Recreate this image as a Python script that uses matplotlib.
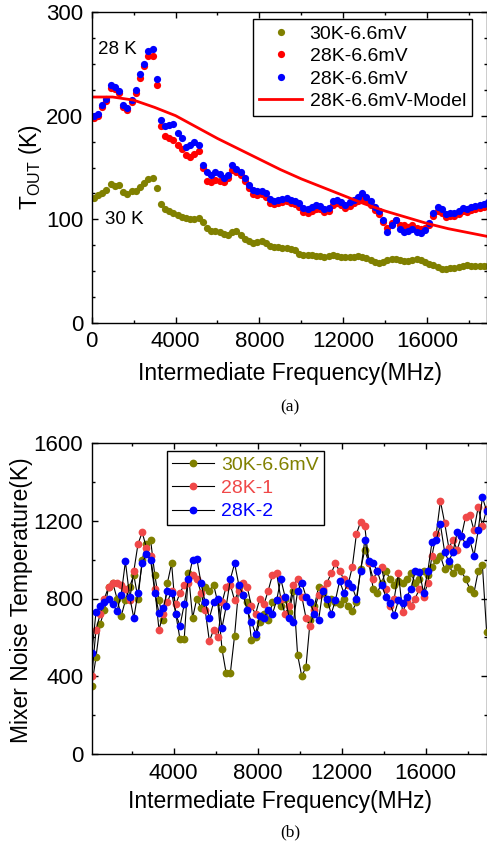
import matplotlib
matplotlib.use('Agg')
import matplotlib.pyplot as plt
from matplotlib.ticker import MultipleLocator

plt.rcParams['font.family'] = ['Liberation Sans', 'DejaVu Sans']
plt.rcParams['mathtext.default'] = 'regular'

# ---------------- data ----------------
freq = list(range(100, 19000, 200))  # MHz sampling grid

# (a) output noise temperature
tout_30k = [121, 123, 125, 128, 134, 132, 133, 126, 124, 127, 127, 131, 135, 139, 140, 130,
            115, 110, 108, 106, 104, 102, 101, 100, 100, 101, 97, 92, 89, 89, 88, 86,
            85, 88, 89, 85, 81, 79, 77, 78, 79, 77, 74, 73, 73, 72, 72, 71,
            70, 67, 66, 66, 66, 65, 65, 64, 65, 66, 65, 64, 64, 64, 64, 65,
            64, 63, 61, 59, 58, 59, 61, 62, 62, 61, 60, 60, 61, 62, 61, 59,
            57, 56, 54, 52, 52, 53, 53, 54, 55, 56, 55, 55, 55, 55, 55]
tout_28k_red = [198, 200, 208, 214, 227, 226, 222, 208, 205, 213, 222, 236, 248, 258, 258, 230,
                190, 180, 178, 177, 172, 168, 162, 160, 163, 166, 150, 137, 136, 138, 137, 136,
                140, 148, 146, 143, 137, 130, 124, 123, 124, 122, 116, 115, 116, 117, 118, 116,
                115, 112, 107, 106, 108, 110, 110, 107, 108, 114, 116, 114, 111, 113, 116, 118,
                120, 118, 114, 109, 105, 97, 92, 96, 99, 95, 95, 93, 95, 92, 91, 92,
                95, 103, 108, 106, 102, 103, 103, 105, 108, 107, 109, 110, 111, 112, 113]
tout_28k_blue = [200, 202, 210, 216, 230, 228, 224, 210, 207, 215, 225, 240, 250, 262, 264, 235,
                 196, 190, 191, 192, 183, 178, 170, 172, 175, 172, 152, 146, 143, 146, 144, 140,
                 143, 152, 149, 146, 140, 133, 128, 127, 127, 125, 120, 118, 119, 120, 121, 119,
                 118, 116, 111, 110, 112, 114, 113, 110, 111, 118, 119, 117, 114, 117, 119, 122,
                 125, 122, 118, 112, 108, 99, 88, 95, 99, 91, 88, 89, 91, 88, 87, 90,
                 96, 106, 112, 110, 105, 106, 106, 108, 111, 110, 112, 113, 114, 115, 117]
model_freq = [0, 1000, 2000, 3000, 4000, 5000, 6000, 7000, 8000, 9000,
              10000, 11000, 12000, 13000, 14000, 15000, 16000, 17000, 18000, 19000]
model_T = [218, 218, 215, 208, 200, 189, 178, 168, 158, 148,
           139, 131, 123, 115, 108, 102, 96, 91, 87, 83]

# (b) mixer noise temperature
tm_30k = [352, 500, 670, 740, 860, 880, 800, 710, 790, 860, 920, 800, 1000, 1080, 1100, 920,
          790, 690, 880, 980, 720, 590, 590, 930, 700, 800, 750, 860, 840, 870, 780, 540,
          415, 420, 610, 860, 820, 780, 585, 600, 680, 720, 690, 780, 790, 760, 800, 730,
          840, 510, 400, 450, 690, 760, 860, 830, 770, 800, 780, 770, 800, 760, 735, 780,
          950, 1050, 980, 850, 830, 880, 940, 900, 870, 890, 880, 900, 930, 880, 900, 940,
          920, 960, 1000, 1020, 950, 970, 930, 960, 940, 900, 850, 830, 940, 970, 630]
tm_28k_1 = [400, 640, 720, 800, 860, 880, 880, 870, 850, 790, 940, 1080, 1140, 1060, 1020, 850,
            640, 720, 780, 840, 770, 830, 870, 880, 920, 900, 830, 740, 580, 640, 600, 780,
            860, 870, 790, 840, 880, 860, 760, 720, 800, 770, 840, 920, 930, 800, 720, 760,
            870, 900, 810, 700, 660, 740, 820, 850, 880, 930, 980, 940, 900, 870, 960, 1130,
            1195, 1170, 980, 900, 940, 960, 850, 760, 800, 930, 730, 780, 760, 800, 850, 810,
            880, 1020, 1130, 1300, 1190, 1060, 1100, 1050, 1120, 1220, 1230, 1150, 1270, 1170, 1260]
tm_28k_2 = [520, 730, 760, 780, 800, 770, 735, 820, 990, 810, 700, 830, 980, 1030, 1000, 830,
            725, 750, 840, 830, 720, 660, 770, 900, 1000, 1005, 880, 780, 700, 780, 800, 650,
            760, 900, 980, 870, 820, 740, 680, 620, 710, 700, 740, 720, 790, 900, 810, 700,
            680, 840, 880, 810, 780, 720, 690, 840, 800, 720, 790, 890, 830, 880, 860, 800,
            940, 1100, 990, 980, 940, 870, 810, 775, 715, 790, 775, 810, 850, 940, 935, 830,
            940, 1090, 1100, 1180, 1040, 990, 1040, 1140, 1120, 1080, 1100, 1020, 1150, 1320, 1250]

labels_a = ['30K-6.6mV', '28K-6.6mV', '28K-6.6mV', '28K-6.6mV-Model']
labels_b = ['30K-6.6mV', '28K-1', '28K-2']

OLIVE = '#808000'
RED = '#FF0000'
RED_B = '#F04848'
BLUE = '#0000FF'

# ---------------- figure ----------------
fig = plt.figure(figsize=(4.87, 8.49), dpi=100)
W, H = 487.0, 849.0
ax1 = fig.add_axes([91.7 / W, 1 - 323 / H, (486.5 - 91.7) / W, 311 / H])
ax2 = fig.add_axes([91.7 / W, 1 - 754.3 / H, (486.5 - 91.7) / W, 311.6 / H])

ms_a = 5.2
ax1.plot(freq, tout_30k, 'o', ls='none', color=OLIVE, ms=ms_a, mew=0, label=labels_a[0])
ax1.plot(freq, tout_28k_red, 'o', ls='none', color=RED, ms=ms_a, mew=0, label=labels_a[1])
ax1.plot(freq, tout_28k_blue, 'o', ls='none', color=BLUE, ms=ms_a, mew=0, label=labels_a[2])
ax1.plot(model_freq, model_T, '-', color=RED, lw=2.0, label=labels_a[3])

ax1.set_xlim(0, 18830)
ax1.set_ylim(0, 300)
ax1.xaxis.set_major_locator(MultipleLocator(4000))
ax1.xaxis.set_minor_locator(MultipleLocator(2000))
ax1.yaxis.set_major_locator(MultipleLocator(100))
ax1.yaxis.set_minor_locator(MultipleLocator(25))

ax1.text(1206, 264, '28 K', fontsize=13.5, ha='center', va='center')
ax1.text(1564, 100, '30 K', fontsize=13.5, ha='center', va='center')

leg1 = ax1.legend(loc='upper right', bbox_to_anchor=(0.963, 0.977), fontsize=14,
                  frameon=True, fancybox=False, edgecolor='black', framealpha=1,
                  borderpad=0.3, labelspacing=0.25, handlelength=2.2,
                  handletextpad=0.4, borderaxespad=0, markerscale=1.0)
leg1.get_frame().set_linewidth(1.0)

ax1.set_xlabel('Intermediate Frequency(MHz)', fontsize=16.5, va='center')
ax1.xaxis.set_label_coords(0.502, -0.161)
ax1.set_ylabel(r'$\mathregular{T_{OUT}}$ (K)', fontsize=16.5, va='center')
ax1.yaxis.set_label_coords(-0.156, 0.502)

# (b)
ms_b = 5.6
ax2.plot(freq, tm_30k, '-o', color='black', lw=0.8, mfc=OLIVE, mec=OLIVE, ms=ms_b, mew=0,
         label=labels_b[0])
ax2.plot(freq, tm_28k_1, '-o', color='black', lw=0.8, mfc=RED_B, mec=RED_B, ms=ms_b, mew=0,
         label=labels_b[1])
ax2.plot(freq, tm_28k_2, '-o', color='black', lw=0.8, mfc=BLUE, mec=BLUE, ms=ms_b, mew=0,
         label=labels_b[2])

ax2.set_xlim(95, 18895)
ax2.set_ylim(0, 1600)
ax2.xaxis.set_major_locator(MultipleLocator(4000))
ax2.xaxis.set_minor_locator(MultipleLocator(2000))
ax2.yaxis.set_major_locator(MultipleLocator(400))
ax2.yaxis.set_minor_locator(MultipleLocator(200))

leg2 = ax2.legend(loc='upper left', bbox_to_anchor=(0.19, 0.973), fontsize=14,
                  frameon=True, fancybox=False, edgecolor='black', framealpha=1,
                  borderpad=0.25, labelspacing=0.3, handlelength=2.2,
                  handletextpad=0.35, borderaxespad=0)
leg2.get_frame().set_linewidth(1.0)
for txt, c in zip(leg2.get_texts(), [OLIVE, RED_B, BLUE]):
    txt.set_color(c)

ax2.set_xlabel('Intermediate Frequency(MHz)', fontsize=16.5, va='center')
ax2.xaxis.set_label_coords(0.477, -0.153)
ax2.set_ylabel('Mixer Noise Temperature(K)', fontsize=16.5, va='center')
ax2.yaxis.set_label_coords(-0.177, 0.495)

for ax in (ax1, ax2):
    ax.tick_params(which='both', direction='in', top=True, right=True, width=1.0,
                   labelsize=16, pad=6)
    ax.tick_params(which='major', length=4.5)
    ax.tick_params(which='minor', length=2.5)
    for s in ax.spines.values():
        s.set_linewidth(1.0)

fig.text(290 / W, 1 - 407 / H, '(a)', fontsize=12.5, family=['Liberation Serif', 'DejaVu Serif'],
         ha='center', va='center')
fig.text(290 / W, 1 - 832 / H, '(b)', fontsize=12.5, family=['Liberation Serif', 'DejaVu Serif'],
         ha='center', va='center')

fig.savefig('out.png', dpi=100)
